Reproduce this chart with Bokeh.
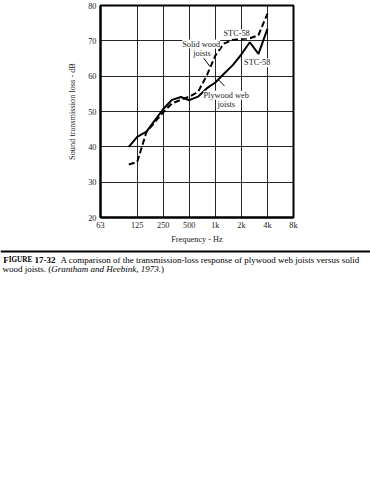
from bokeh.plotting import figure
from bokeh.models import FixedTicker, Label, Span, Range1d
from bokeh.layouts import column
from bokeh.core.properties import value
from bokeh.embed import file_html
from bokeh.resources import INLINE

# ---- data ----
freq_hz = [100, 125, 160, 200, 250, 315, 400, 500, 630, 800, 1000, 1250, 1600, 2000, 2500, 3150, 4000]
plywood_web_db = [40.0, 42.8, 44.3, 47.5, 50.7, 53.3, 54.1, 53.2, 54.2, 56.6, 58.2, 60.6, 63.2, 66.2, 69.6, 66.3, 73.4]
solid_wood_db = [35.0, 35.7, 44.2, 47.0, 49.8, 52.3, 53.3, 54.2, 55.5, 60.3, 65.8, 69.2, 70.3, 70.5, 70.7, 71.6, 77.7]

x_edge = 47.1  # left edge of the chart, labelled "63"
x_ticks = [x_edge, 125, 250, 500, 1000, 2000, 4000, 8000]
x_tick_labels = ["63", "125", "250", "500", "1k", "2k", "4k", "8k"]
y_ticks = [20, 30, 40, 50, 60, 70, 80]

SERIF = "Liberation Serif"

p = figure(x_axis_type="log", x_range=Range1d(x_edge, 8000), y_range=Range1d(20, 80),
           frame_width=193, frame_height=212,
           min_border_left=100, min_border_right=77, min_border_top=5, min_border_bottom=27,
           output_backend="svg", toolbar_location=None)
p.frame_align = False
p.background_fill_color = "white"
p.border_fill_color = "white"
p.outline_line_color = "black"
p.outline_line_width = 2

p.xaxis.ticker = FixedTicker(ticks=x_ticks, minor_ticks=[])
p.xaxis.major_label_overrides = {t: l for t, l in zip(x_ticks, x_tick_labels)}
p.yaxis.ticker = FixedTicker(ticks=y_ticks, minor_ticks=[])

for ax in (p.xaxis[0], p.yaxis[0]):
    ax.axis_line_color = "black"
    ax.axis_line_width = 2
    ax.major_tick_in = 0
    ax.major_tick_out = 0
    ax.minor_tick_in = 0
    ax.minor_tick_out = 0
    ax.major_label_text_font = SERIF
    ax.major_label_text_font_size = "8.3px"
    ax.major_label_text_color = "#222222"
    ax.axis_label_text_font = SERIF
    ax.axis_label_text_font_size = "8.3px"
    ax.axis_label_text_font_style = "normal"
    ax.axis_label_text_color = "#222222"

p.xaxis.axis_label = "Frequency - Hz"
p.xaxis.major_label_standoff = 3
p.xaxis.axis_label_standoff = 2
p.yaxis.axis_label = "Sound transmission loss - dB"
p.yaxis.major_label_standoff = 4
p.yaxis.axis_label_standoff = 8

p.xgrid.grid_line_color = "black"
p.ygrid.grid_line_color = "black"
p.xgrid.grid_line_width = 1
p.ygrid.grid_line_width = 1
p.xgrid.grid_line_alpha = 0.85
p.ygrid.grid_line_alpha = 0.85

p.line(freq_hz, plywood_web_db, line_color="black", line_width=2)
p.line(freq_hz, solid_wood_db, line_color="black", line_width=2, line_dash="6 3")

# leader lines of the annotations
p.segment(x0=[734, 1087], y0=[65.1, 59.0], x1=[862, 1276], y1=[62.8, 57.2],
          line_color="black", line_width=1)

def note(x, y, text):
    p.add_layout(Label(x=x, y=y, text=text, text_align="center", text_baseline="middle",
                       text_font=SERIF, text_font_size="8.3px", text_color="#222222",
                       background_fill_color="white"))

note(687, 69.1, "Solid wood")
note(700, 66.5, "joists")
note(1760, 72.0, "STC-58")
note(3050, 63.8, "STC-58")
note(1335, 54.6, "Plywood web")
note(1335, 52.0, "joists")

# ---- caption ----
c = figure(width=370, height=30, x_range=Range1d(0, 370), y_range=Range1d(30, 0),
           min_border=0, output_backend="svg", toolbar_location=None)
c.frame_align = False
c.xaxis.visible = False
c.yaxis.visible = False
c.xgrid.visible = False
c.ygrid.visible = False
c.outline_line_color = None
c.background_fill_color = "white"
c.border_fill_color = "white"
c.add_layout(Span(location=5, dimension="width", line_color="black", line_width=2))

def cap(x, y, text, size="9px", style="normal"):
    c.text(x=[x], y=[y], text=[text], text_font=value(SERIF), text_font_size=value(size),
           text_font_style=style, text_baseline="middle", text_align="left", text_color="black")

cap(2.7, 13.3, "F", style="bold")
cap(8.2, 13.3, "IGURE", size="7.2px", style="bold")
cap(34, 13.3, "17-32", style="bold")
cap(60, 13.3, "A comparison of the transmission-loss response of plywood web joists versus solid")
cap(2, 22.7, "wood joists. (")
cap(50.8, 22.7, "Grantham and Heebink, 1973.", style="italic")
cap(160.5, 22.7, ")")

layout = column(p, c, spacing=0)
open("out.html", "w").write(file_html(layout, INLINE))
